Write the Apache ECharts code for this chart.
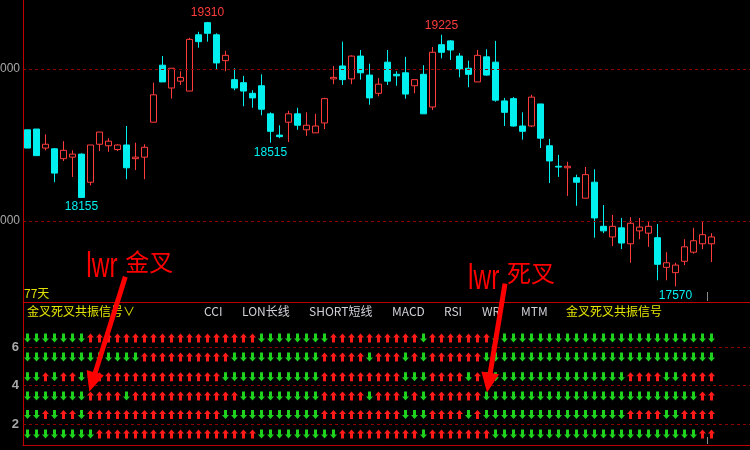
<!DOCTYPE html>
<html>
<head>
<meta charset="utf-8">
<script src="https://cdn.jsdelivr.net/npm/echarts@6.0.0/dist/echarts.min.js"></script>
<style>
html,body{margin:0;padding:0;background:#000;}
#chart{width:750px;height:450px;}
</style>
</head>
<body>
<div id="chart"></div>
<script>
// ---------------- DATA ----------------
const categories = Array.from({length: 77}, (_, i) => 'D' + (i + 1));
const opens  = [18600,18605,18480,18475,18410,18420,18440,18255,18505,18495,
                18470,18500,18410,18420,18650,19025,18875,18920,18855,19225,
                19305,19225,19055,18930,18910,18840,18890,18705,18565,18650,
                18705,18600,18580,18645,18935,19020,18935,19085,18960,18840,
                19045,18965,18975,18890,18965,18750,19160,19185,19085,19005,
                18915,19080,19045,18790,18805,18625,18625,18770,18495,18360,
                18350,18285,18150,18255,17965,17895,17955,17850,17935,17920,
                17890,17695,17660,17735,17795,17850,17850];
const closes = [18480,18430,18505,18315,18465,18440,18155,18500,18585,18525,
                18500,18350,18420,18485,18830,18915,19005,18945,19195,19180,
                19235,19040,19090,18875,18855,18810,18735,18590,18555,18705,
                18630,18630,18625,18805,18945,18930,19085,18975,18810,18900,
                18920,18955,18835,18930,18705,19110,19110,19125,19000,18965,
                19090,18960,18795,18715,18625,18590,18815,18545,18395,18355,
                18360,18255,18305,18020,17935,17965,17855,17985,17960,17965,
                17715,17725,17710,17830,17870,17910,17895];
const lows   = [18480,18430,18465,18255,18395,18290,18155,18235,18460,18455,
                18460,18275,18335,18275,18650,18915,18805,18895,18855,19140,
                19180,19000,18985,18860,18755,18745,18695,18515,18545,18520,
                18600,18560,18580,18605,18900,18895,18900,18930,18765,18820,
                18895,18890,18805,18840,18705,18730,19070,19060,18945,18880,
                18915,18955,18785,18625,18620,18535,18620,18480,18250,18290,
                18165,18100,18150,17890,17920,17835,17815,17725,17880,17830,
                17610,17610,17570,17710,17785,17815,17730];
const highs  = [18600,18605,18570,18480,18525,18465,18445,18500,18585,18545,
                18505,18625,18515,18505,18910,19085,19005,18985,19205,19245,
                19310,19235,19120,19005,18955,18860,18965,18715,18630,18725,
                18745,18715,18705,18810,19020,19180,19090,19125,19035,18940,
                19125,18985,19080,18930,19025,19145,19225,19190,19105,19055,
                19125,19130,19185,18810,18815,18715,18830,18770,18540,18435,
                18390,18305,18355,18340,18105,18040,18020,18025,18020,17995,
                17980,17795,17725,17880,17955,18000,17920];
const priceTicks = [18000, 19000];
const highMarkIdx = [20, 46];
const lowMarkIdx  = [6, 27, 72];

// signal rows: 1 = red up arrow, 0 = green down arrow
const sig1 = [0,0,0,0,0,0,0,
              1,1,1,1,1,1,1,1,1,1,1,1,1,1,1,1,1,1,1,
              0,0,0,0,0,0,0,0,
              1,1,1,1,1,1,1,1,1,1,
              0,
              1,1,1,1,1,1,1,
              0,0,0,0,0,0,0,0,0,0,0,0,0,0,0,0,0,0,0,0,0,0,0,0,0];
const sig2 = [0,0,0,0,0,0,0,0,0,0,0,0,0,
              1,1,1,1,1,1,1,1,1,1,
              0,0,0,0,0,0,0,0,0,0,
              1,1,1,1,1,
              0,
              1,1,1,
              0,
              1,
              0,
              1,1,1,1,1,1,
              0,0,0,0,0,0,0,0,0,0,0,0,0,0,0,0,0,0,0,0,0,0,0,0,0,0];
const sig3 = [0,0,1,0,1,1,0,
              1,1,1,1,1,1,1,1,1,1,1,1,1,1,1,
              0,0,0,0,0,0,0,0,0,0,0,
              1,1,1,1,1,1,1,1,1,
              0,0,0,
              1,1,1,1,
              0,
              1,
              0,0,0,0,0,0,0,0,0,0,0,0,0,0,0,0,
              1,1,1,1,
              0,0,
              1,1,1,1];
const sig4 = [0,0,0,0,0,0,0,
              1,1,1,1,
              0,
              1,1,1,1,1,1,1,1,1,1,1,1,
              0,0,0,0,0,0,0,0,0,
              1,1,1,1,1,
              0,
              1,1,1,
              0,
              1,
              0,
              1,1,1,1,1,1,
              0,0,0,0,0,0,0,0,0,0,0,0,0,0,0,0,0,0,0,0,0,0,0,0,
              1,1];
const sig5 = [0,0,1,0,1,1,0,
              1,1,1,1,1,1,1,1,1,1,1,1,1,1,1,
              0,0,0,0,0,0,0,0,0,0,0,
              1,1,1,1,1,1,1,1,1,
              0,0,0,
              1,1,1,1,
              0,
              1,
              0,0,0,0,0,0,0,0,0,0,0,0,0,0,0,0,
              1,1,1,1,
              0,0,
              1,1,1,1];
const sig6 = [0,0,0,0,0,0,0,0,
              1,1,1,1,1,1,1,1,1,1,1,1,1,1,1,1,1,1,
              0,0,0,0,0,0,0,0,0,
              1,1,1,1,1,1,1,1,1,
              0,
              1,1,1,1,1,1,1,
              0,0,0,0,0,0,0,0,0,0,0,0,0,0,0,0,0,0,0,0,0,0,0,
              1,1];
const signalRows = [sig1, sig2, sig3, sig4, sig5, sig6];
const signalLevels = [6.47, 5.48, 4.45, 3.45, 2.5, 1.48];
const signalTicks = [2, 4, 6];
const headerLabels = ['CCI', 'LON长线', 'SHORT短线', 'MACD', 'RSI', 'WR', 'MTM'];
const goldenCross = {idx: 7, row: 3, text: ['lwr', '金叉']};
const deathCross  = {idx: 51, row: 3, text: ['lwr', '死叉']};

// ---------------- CHART ----------------
const UP = '#ff3c3c', DOWN = '#00f0f0', AXIS_RED = '#c00000', DASH = '#900000';
const LAT = '"Liberation Sans", Arial, sans-serif';
const CJK = '"Noto Sans CJK SC", "Liberation Sans", sans-serif';
const axisCats = categories.concat(['p1', 'p2', 'p3', 'p4']);
const candleData = categories.map((_, i) => [opens[i], closes[i], lows[i], highs[i]]);
const upPts = [], downPts = [];
signalRows.forEach((row, r) => row.forEach((v, i) => (v ? upPts : downPts).push([i, signalLevels[r]])));

const UP_ARROW = 'path://M3.5,0 L7,4 L5,4 L5,9 L2,9 L2,4 L0,4 Z';
const DOWN_ARROW = 'path://M2,0 L5,0 L5,5 L7,5 L3.5,9 L0,5 L2,5 Z';

const chart = echarts.init(document.getElementById('chart'), null, {renderer: 'canvas', width: 750, height: 450});
const gridBase = {left: 23, width: 729, outerBoundsMode: 'none', containLabel: false};
const hiddenAxis = {axisTick: {show: false}, axisLabel: {show: false}, splitLine: {show: false}};

const option = {
  backgroundColor: '#000',
  animation: false,
  grid: [
    Object.assign({}, gridBase, {top: 0, height: 302}),
    Object.assign({}, gridBase, {top: 302, height: 143})
  ],
  xAxis: [0, 1].map(g => Object.assign({
    type: 'category', gridIndex: g, data: axisCats, boundaryGap: true,
    axisLine: {show: true, onZero: false, lineStyle: {color: AXIS_RED, width: 1}}
  }, hiddenAxis)),
  yAxis: [
    Object.assign({type: 'value', gridIndex: 0, min: 17467, max: 19454, scale: true,
      axisLine: {show: true, lineStyle: {color: AXIS_RED, width: 1}}}, hiddenAxis),
    Object.assign({type: 'value', gridIndex: 1, min: 0.91, max: 8.34, scale: true,
      axisLine: {show: true, lineStyle: {color: AXIS_RED, width: 1}}}, hiddenAxis)
  ],
  series: [
    {
      type: 'candlestick', xAxisIndex: 0, yAxisIndex: 0, barWidth: 7, silent: true,
      data: candleData,
      itemStyle: {color: '#000', color0: DOWN, borderColor: UP, borderColor0: DOWN, borderColorDoji: UP, borderWidth: 1},
      markLine: {
        silent: true, symbol: 'none', animation: false,
        lineStyle: {color: DASH, type: [3, 3], width: 1},
        label: {show: true, position: 'start', formatter: '{c}', color: '#a8a8a8', fontSize: 12, fontFamily: LAT, distance: 3},
        emphasis: {disabled: true},
        data: priceTicks.map(v => ({yAxis: v}))
      },
      markPoint: {
        symbol: 'circle', symbolSize: 1, silent: true, animation: false,
        itemStyle: {color: 'rgba(0,0,0,0)'},
        label: {show: true, formatter: '{c}', fontSize: 12, fontFamily: LAT, distance: 3},
        data: highMarkIdx.map(i => ({coord: [i, highs[i]], value: highs[i], label: {position: 'top', color: UP}}))
          .concat(lowMarkIdx.map(i => ({coord: [i, lows[i]], value: lows[i], label: {position: 'bottom', color: DOWN}})))
      }
    },
    {
      type: 'scatter', xAxisIndex: 1, yAxisIndex: 1, silent: true,
      symbol: UP_ARROW, symbolSize: [7, 9], itemStyle: {color: '#ff1a1a', opacity: 1},
      data: upPts,
      markLine: {
        silent: true, symbol: 'none', animation: false,
        lineStyle: {color: DASH, type: [3, 3], width: 1},
        label: {show: true, position: 'start', formatter: '{c}', color: '#a8a8a8', fontSize: 13, fontWeight: 'bold', fontFamily: LAT, distance: 4},
        emphasis: {disabled: true},
        data: signalTicks.map(v => ({yAxis: v}))
      }
    },
    {
      type: 'scatter', xAxisIndex: 1, yAxisIndex: 1, silent: true,
      symbol: DOWN_ARROW, symbolSize: [7, 9], itemStyle: {color: '#1ed21e', opacity: 1},
      data: downPts
    }
  ]
};
chart.setOption(option);

// ---------------- OVERLAY TEXT & ANNOTATIONS ----------------
function arrowPoly(S, T, shaftW, headLen, headW) {
  const dx = T[0] - S[0], dy = T[1] - S[1], L = Math.hypot(dx, dy);
  const ux = dx / L, uy = dy / L, px = -uy, py = ux;
  const B = [T[0] - ux * headLen, T[1] - uy * headLen];
  return [
    [S[0] + px * shaftW / 2, S[1] + py * shaftW / 2],
    [B[0] + px * shaftW / 2, B[1] + py * shaftW / 2],
    [B[0] + px * headW / 2, B[1] + py * headW / 2],
    [T[0], T[1]],
    [B[0] - px * headW / 2, B[1] - py * headW / 2],
    [B[0] - px * shaftW / 2, B[1] - py * shaftW / 2],
    [S[0] - px * shaftW / 2, S[1] - py * shaftW / 2]
  ];
}
const cellPx = (idx, row) => chart.convertToPixel({gridIndex: 1}, [idx, signalLevels[row]]);
const g1 = cellPx(goldenCross.idx, goldenCross.row);
const g2 = cellPx(deathCross.idx, deathCross.row);
const T1 = [g1[0] - 1.2, g1[1] - 4.4], S1 = [T1[0] + 36, T1[1] - 115];
const T2 = [g2[0] + 0.5, g2[1] - 3.5], S2 = [T2[0] + 18, T2[1] - 109];

const graphics = [];
const txt = (text, x, y, color, font, align, extra) => Object.assign({
  type: 'text', x: x, y: y, silent: true, z: 100,
  style: {text: text, fill: color, font: font, textAlign: align || 'left', textVerticalAlign: 'middle'}
}, extra || {});

graphics.push(txt('77天', 24, 293, '#e0e000', '12px ' + CJK));
graphics.push(txt('金叉死叉共振信号∨', 27, 311, '#e6e600', '12px ' + CJK));
const headerX = [204, 242, 309, 392, 444, 482, 521];
headerLabels.forEach((t, k) => graphics.push(txt(t, headerX[k], 311, '#d0d0d8', '12px ' + CJK)));
graphics.push(txt('金叉死叉共振信号', 566, 311, '#e6e600', '12px ' + CJK));

// cursor marks
graphics.push({type: 'line', silent: true, z: 100, shape: {x1: 707.5, y1: 292, x2: 707.5, y2: 301}, style: {stroke: '#8a8a8a', lineWidth: 1}});
graphics.push({type: 'line', silent: true, z: 100, shape: {x1: 707.5, y1: 437, x2: 707.5, y2: 444}, style: {stroke: '#8a8a8a', lineWidth: 1}});

// annotations
graphics.push({type: 'polygon', silent: true, z: 110, shape: {points: arrowPoly(S1, T1, 5, 20, 18)}, style: {fill: '#ff0000'}});
graphics.push({type: 'polygon', silent: true, z: 110, shape: {points: arrowPoly(S2, T2, 5, 20, 18)}, style: {fill: '#ff0000'}});
graphics.push(txt(goldenCross.text[0], S1[0] - 39, S1[1] - 9, '#ff0000', '35px ' + LAT, 'left', {scaleX: 0.7}));
graphics.push(txt(goldenCross.text[1], S1[0], S1[1] - 15, '#ff0000', '24px ' + CJK));
graphics.push(txt(deathCross.text[0], S2[0] - 37, S2[1] - 4, '#ff0000', '35px ' + LAT, 'left', {scaleX: 0.7}));
graphics.push(txt(deathCross.text[1], S2[0] + 2, S2[1] - 11, '#ff0000', '24px ' + CJK));

chart.setOption({graphic: graphics});
</script>
</body>
</html>
